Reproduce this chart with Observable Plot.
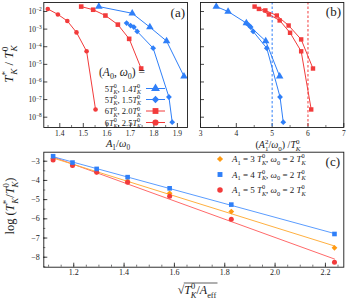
<!DOCTYPE html>
<html><head><meta charset="utf-8">
<script src="https://cdn.jsdelivr.net/npm/d3@7"></script>
<script src="https://cdn.jsdelivr.net/npm/@observablehq/plot@0.6"></script>
<style>
body{margin:0;background:#fff;}
#wrap{position:relative;width:349px;height:299px;overflow:hidden;font-family:"Liberation Serif",serif;background:#fff;}
</style></head><body><div id="wrap"></div>
<script>
// ---------- Panel (a): T*_K/T0_K vs A1/omega0 ----------
const triA_x = [1.566, 1.708, 1.783, 1.854, 1.928];
const triA_y = [1.9e-2, 7.9e-3, 1.29e-3, 2.1e-4, 2.1e-6];
const diaA_x = [1.684, 1.701, 1.715, 1.729, 1.797, 1.864, 1.878];
const diaA_y = [2.2e-3, 1.6e-3, 1.3e-3, 7.4e-4, 8.3e-5, 1.4e-7, 5.2e-9];
const sqA_x  = [1.491, 1.542, 1.594, 1.647, 1.695, 1.746];
const sqA_y  = [1.9e-2, 1.26e-2, 5.9e-3, 1.8e-3, 2.8e-4, 5.8e-6];
const cirA_x = [1.349, 1.392, 1.432, 1.471, 1.514, 1.552];
const cirA_y = [1.4e-2, 6.8e-3, 2.9e-3, 6.5e-4, 5.5e-5, 2.75e-8];

// ---------- Panel (b): T*_K/T0_K vs (A1^2/omega0)/T0_K ----------
const triB_x = [3.44, 3.77, 4.28, 4.82, 5.21];
const triB_y = [1.9e-2, 1.0e-2, 2.2e-3, 2.1e-4, 2.1e-6];
const diaB_x = [4.28, 4.36, 4.40, 4.47, 4.85, 5.22, 5.31];
const diaB_y = [2.2e-3, 1.6e-3, 1.3e-3, 7.4e-4, 8.3e-5, 1.4e-7, 5.2e-9];
const sqB_x  = [4.51, 4.81, 5.13, 5.46, 5.81, 6.14];
const sqB_y  = [1.9e-2, 1.15e-2, 5.9e-3, 1.6e-3, 2.6e-4, 5.8e-6];
const cirB_x = [4.63, 4.91, 5.21, 5.50, 5.81, 6.09];
const cirB_y = [1.4e-2, 6.8e-3, 3.1e-3, 6.2e-4, 5.5e-5, 2.75e-8];
const vlinesB = [5, 6];

// ---------- Panel (c): log(T*_K/T0_K) vs sqrt(T0_K/A_eff) ----------
const xC      = [1.118, 1.195, 1.291, 1.414, 1.581, 1.826, 2.236];
const orangeC = [-2.86, -3.20, -3.56, -4.04, -4.67, -5.62, -7.51];
const blueC   = [-2.74, -3.07, -3.40, -3.83, -4.41, -5.26, -6.79];
const redC    = [-2.93, -3.22, -3.58, -4.10, -4.82, -6.02, -8.26];

// tick labels
const yTicksAB = [1e-8, 1e-7, 1e-6, 1e-5, 1e-4, 1e-3, 1e-2];
const xTicksA = [1.4, 1.5, 1.6, 1.7, 1.8, 1.9];
const xTicksB = [3, 4, 5, 6, 7];
const xTicksC = [1.2, 1.4, 1.6, 1.8, 2.0, 2.2];
const yTicksC = [-8, -7, -6, -5, -4, -3];

// legend texts
const legA_A0 = ["5", "5", "6", "6"];
const legA_w0 = ["1.4", "1.5", "2.0", "2.5"];
const legC_A1 = ["3", "4", "5"];
const legC_w0 = "2";

const FONT = "Liberation Serif";
const BLUE = "#2f7ff8", RED = "#f23b3b", ORANGE = "#ff9a12";
const BLUE_L = "#5b9dff", RED_L = "#ff6a6a", ORANGE_L = "#ffb040";
const INK = "#1a1a1a";

const rows = (xs, ys) => xs.map((x, i) => ({x, y: ys[i]}));
const wrap = document.getElementById("wrap");
function place(svg, left, top) {
  svg.style.position = "absolute";
  svg.style.left = left + "px";
  svg.style.top = top + "px";
  svg.style.background = "transparent";
  wrap.appendChild(svg);
}
const baseStyle = {background: "transparent", fontFamily: FONT, color: INK, overflow: "visible"};
const minus = d => (d < 0 ? "−" : "") + Math.abs(d);

const yDomAB = [Math.pow(10, -8.585), Math.pow(10, -1.489)];

// ---- (a)
const A = {w: 190, h: 150, ml: 43.3, mr: 3, mt: 2, mb: 23};
const fwA = A.w - A.ml - A.mr, fhA = A.h - A.mt - A.mb;
const chartA = Plot.plot({
  width: A.w, height: A.h, marginLeft: A.ml, marginRight: A.mr, marginTop: A.mt, marginBottom: A.mb,
  style: {...baseStyle, fontSize: "7.5px"},
  x: {domain: [1.332, 1.943]},
  y: {type: "log", domain: yDomAB},
  marks: [
    Plot.axisX({ticks: xTicksA, tickSize: 0, tickPadding: 3, label: null, tickFormat: d => d.toFixed(1)}),
    Plot.axisY({ticks: yTicksAB, tickSize: 0, tickPadding: 2, label: null,
      tickFormat: d => "−" + Math.round(-Math.log10(d))}),
    Plot.tickX(xTicksA, {x: d => d, insetTop: fhA - 4, stroke: INK, strokeWidth: 0.8}),
    Plot.tickX(d3.range(1.35, 1.93, 0.05).filter(v => Math.abs(v * 10 - Math.round(v * 10)) > 0.01), {x: d => d, insetTop: fhA - 2, stroke: INK, strokeWidth: 0.6}),
    Plot.tickY(yTicksAB, {y: d => d, insetRight: fwA - 4, stroke: INK, strokeWidth: 0.8}),
    Plot.line(rows(cirA_x, cirA_y), {x: "x", y: "y", stroke: RED, strokeWidth: 1}),
    Plot.line(rows(sqA_x, sqA_y), {x: "x", y: "y", stroke: RED, strokeWidth: 1}),
    Plot.line(rows(triA_x, triA_y), {x: "x", y: "y", stroke: BLUE, strokeWidth: 1}),
    Plot.line(rows(diaA_x, diaA_y), {x: "x", y: "y", stroke: BLUE, strokeWidth: 1}),
    Plot.dot(rows(cirA_x, cirA_y), {x: "x", y: "y", symbol: "circle", fill: RED, r: 2.3}),
    Plot.dot(rows(sqA_x, sqA_y), {x: "x", y: "y", symbol: "square", fill: RED, r: 2.6}),
    Plot.dot(rows(triA_x, triA_y), {x: "x", y: "y", symbol: "triangle", fill: BLUE, r: 2.8}),
    Plot.dot(rows(diaA_x, diaA_y), {x: "x", y: "y", symbol: "diamond2", fill: BLUE, r: 2.6}),
    Plot.frame({stroke: INK, strokeWidth: 0.9})
  ]
});
place(chartA, 0, 0);
d3.select(chartA).selectAll('g[aria-label="y-axis tick label"] text').each(function () {
  const e = this.textContent;
  const s = d3.select(this);
  s.text("10");
  s.append("tspan").attr("dy", "-0.45em").attr("font-size", "0.72em").text(e);
});

// ---- (b)
const B = {w: 159, h: 150, ml: 10, mr: 5.7, mt: 2, mb: 23};
const fwB = B.w - B.ml - B.mr, fhB = B.h - B.mt - B.mb;
const chartB = Plot.plot({
  width: B.w, height: B.h, marginLeft: B.ml, marginRight: B.mr, marginTop: B.mt, marginBottom: B.mb,
  style: {...baseStyle, fontSize: "7.5px"},
  x: {domain: [3, 7]},
  y: {type: "log", domain: yDomAB, axis: null},
  marks: [
    Plot.axisX({ticks: xTicksB, tickSize: 0, tickPadding: 3, label: null, tickFormat: d => String(d)}),
    Plot.tickX(xTicksB, {x: d => d, insetTop: fhB - 4, stroke: INK, strokeWidth: 0.8}),
    Plot.tickX(d3.range(3.5, 7, 1), {x: d => d, insetTop: fhB - 2, stroke: INK, strokeWidth: 0.6}),
    Plot.tickY(yTicksAB, {y: d => d, insetRight: fwB - 4, stroke: INK, strokeWidth: 0.8}),
    Plot.ruleX(vlinesB.slice(0, 1), {stroke: BLUE, strokeWidth: 1, strokeDasharray: "2.5,2"}),
    Plot.ruleX(vlinesB.slice(1, 2), {stroke: RED, strokeWidth: 1, strokeDasharray: "2.5,2"}),
    Plot.line(rows(cirB_x, cirB_y), {x: "x", y: "y", stroke: RED, strokeWidth: 1}),
    Plot.line(rows(sqB_x, sqB_y), {x: "x", y: "y", stroke: RED, strokeWidth: 1}),
    Plot.line(rows(triB_x, triB_y), {x: "x", y: "y", stroke: BLUE, strokeWidth: 1}),
    Plot.line(rows(diaB_x, diaB_y), {x: "x", y: "y", stroke: BLUE, strokeWidth: 1}),
    Plot.dot(rows(cirB_x, cirB_y), {x: "x", y: "y", symbol: "square", fill: RED, r: 2.5}),
    Plot.dot(rows(sqB_x, sqB_y), {x: "x", y: "y", symbol: "square", fill: RED, r: 2.5}),
    Plot.dot(rows(triB_x, triB_y), {x: "x", y: "y", symbol: "triangle", fill: BLUE, r: 2.8}),
    Plot.dot(rows(diaB_x, diaB_y), {x: "x", y: "y", symbol: "diamond2", fill: BLUE, r: 2.6}),
    Plot.frame({stroke: INK, strokeWidth: 0.9})
  ]
});
place(chartB, 190, 0);

// ---- (c)
const C = {w: 349, h: 159, ml: 43.3, mr: 5.7, mt: 11.7, mb: 32.3};
const fwC = C.w - C.ml - C.mr, fhC = C.h - C.mt - C.mb;
const dOr = rows(xC, orangeC), dBl = rows(xC, blueC), dRd = rows(xC, redC);
const chartC = Plot.plot({
  width: C.w, height: C.h, marginLeft: C.ml, marginRight: C.mr, marginTop: C.mt, marginBottom: C.mb,
  style: {...baseStyle, fontSize: "8px"},
  x: {domain: [1.081, 2.273]},
  y: {domain: [-8.52, -2.53]},
  marks: [
    Plot.axisX({ticks: xTicksC, tickSize: 0, tickPadding: 2, label: null, tickFormat: d => d.toFixed(1)}),
    Plot.axisY({ticks: yTicksC, tickSize: 0, tickPadding: 4, label: null, tickFormat: minus}),
    Plot.tickX(xTicksC, {x: d => d, insetTop: fhC - 4, stroke: INK, strokeWidth: 0.8}),
    Plot.tickX(d3.range(1.1, 2.27, 0.05), {x: d => d, insetTop: fhC - 2, stroke: INK, strokeWidth: 0.6}),
    Plot.tickY(yTicksC, {y: d => d, insetRight: fwC - 4, stroke: INK, strokeWidth: 0.8}),
    Plot.tickY(d3.range(-8.5, -2.6, 0.5), {y: d => d, insetRight: fwC - 2, stroke: INK, strokeWidth: 0.6}),
    Plot.linearRegressionY(dRd, {x: "x", y: "y", stroke: RED_L, strokeWidth: 1, ci: 0}),
    Plot.linearRegressionY(dOr, {x: "x", y: "y", stroke: ORANGE_L, strokeWidth: 1, ci: 0}),
    Plot.linearRegressionY(dBl, {x: "x", y: "y", stroke: BLUE_L, strokeWidth: 1, ci: 0}),
    Plot.dot(dOr, {x: "x", y: "y", symbol: "diamond2", fill: ORANGE, r: 2.6}),
    Plot.dot(dRd, {x: "x", y: "y", symbol: "circle", fill: RED, r: 2.5}),
    Plot.dot(dBl, {x: "x", y: "y", symbol: "square", fill: BLUE, r: 2.6}),
    Plot.frame({stroke: INK, strokeWidth: 0.9})
  ]
});
place(chartC, 0, 140);

// ---------- overlay: axis titles, legends, panel tags ----------
const ov = d3.create("svg").attr("width", 349).attr("height", 299)
  .attr("font-family", FONT).attr("fill", INK);
place(ov.node(), 0, 0);
ov.style("pointer-events", "none");

const I = t => ({t, i: true});
const R = t => ({t});
const SUP = t => ({t, sup: true});
const SUB = (t, dx, i) => ({t, sub: true, dx, i});
const TK0 = s => [I("T"), SUP("0"), SUB("K", -0.36 * s, true)];
const TKs = s => [I("T"), SUP("*"), SUB("K", -0.3 * s, true)];

function mtext(x, y, parts, {size = 10, anchor = "start", rotate = 0} = {}) {
  const t = ov.append("text").attr("x", x).attr("y", y).attr("font-size", size)
    .attr("text-anchor", anchor);
  if (rotate) t.attr("transform", `rotate(${rotate},${x},${y})`);
  let cur = 0;
  for (const p of parts) {
    const s = p.sup ? -0.4 * size : p.sub ? 0.3 * size : 0;
    const sp = t.append("tspan").text(p.t).attr("dy", s - cur);
    cur = s;
    if (p.sup || p.sub) sp.attr("font-size", size * 0.7);
    if (p.i) sp.attr("font-style", "italic");
    if (p.dx) sp.attr("dx", p.dx);
  }
  return t;
}

// (a) y title
mtext(13, 64, [...TKs(13), R(" / "), ...TK0(13)], {size: 13, anchor: "middle", rotate: -90});
// (a) x title
mtext(118, 146.5, [I("A"), SUB("1"), R("/"), I("ω"), SUB("0")], {size: 10.5, anchor: "middle"});
// (b) x title
mtext(278, 147.5, [R("("), I("A"), SUP("2"), SUB("1", -0.35 * 10), R("/"), I("ω"), SUB("0"), R(") /"), ...TK0(10)], {size: 10, anchor: "middle"});
// (c) y title
mtext(14, 206, [R("log "), R("("), ...TKs(12.5), R("/"), ...TK0(12.5), R(")")], {size: 12.5, anchor: "middle", rotate: -90});
// (c) x title with radical
const cx = mtext(197, 294, [R("√"), ...TK0(12), R("/"), I("A"), SUB("eff")], {size: 12, anchor: "middle"});
{
  const node = cx.node();
  const bb = node.getBBox();
  const rw = node.querySelector("tspan").getComputedTextLength();
  ov.append("line").attr("x1", bb.x + rw - 0.5).attr("x2", bb.x + bb.width + 1)
    .attr("y1", 294 - 11).attr("y2", 294 - 11).attr("stroke", INK).attr("stroke-width", 0.7);
}

// panel tags
mtext(185, 17, [R("(a)")], {size: 13, anchor: "end"});
mtext(341, 16, [R("(b)")], {size: 13, anchor: "end"});
mtext(340, 166, [R("(c)")], {size: 13, anchor: "end"});

// legend (a)
mtext(99, 76, [R("("), I("A"), SUB("0"), R(", "), I("ω"), SUB("0"), R(") =")], {size: 11.5});
const legSymA = [d3.symbolTriangle, d3.symbolDiamond2 || d3.symbolSquare2, d3.symbolSquare, d3.symbolCircle];
const legColA = [BLUE, BLUE, RED, RED];
const legYA = [88.5, 99.5, 111, 122.5];
legA_A0.forEach((a0, i) => {
  const y = legYA[i];
  mtext(141, y + 3, [R(a0), ...TK0(8.5), R(", " + legA_w0[i]), ...TK0(8.5)], {size: 8.5, anchor: "end"});
  ov.append("line").attr("x1", 146).attr("x2", 165).attr("y1", y).attr("y2", y)
    .attr("stroke", legColA[i]).attr("stroke-width", 1);
  const rot = (i === 1 && !d3.symbolDiamond2) ? " rotate(45)" : "";
  ov.append("path").attr("d", d3.symbol(legSymA[i], i === 3 ? 30 : 34)())
    .attr("transform", `translate(155.5,${y})${rot}`).attr("fill", legColA[i]);
});

// legend (c)
const legSymC = [d3.symbolDiamond2 || d3.symbolDiamond, d3.symbolSquare, d3.symbolCircle];
const legColC = [ORANGE, BLUE, RED];
const legYC = [159, 174.5, 190];
legC_A1.forEach((a1, i) => {
  const y = legYC[i];
  ov.append("path").attr("d", d3.symbol(legSymC[i], 24)())
    .attr("transform", `translate(220,${y})`).attr("fill", legColC[i]);
  mtext(232, y + 3, [I("A"), SUB("1"), R(" = " + a1 + " "), ...TK0(9), R(", "), I("ω"), SUB("0"), R(" = " + legC_w0 + " "), ...TK0(9)], {size: 9});
});
</script>
</body></html>
